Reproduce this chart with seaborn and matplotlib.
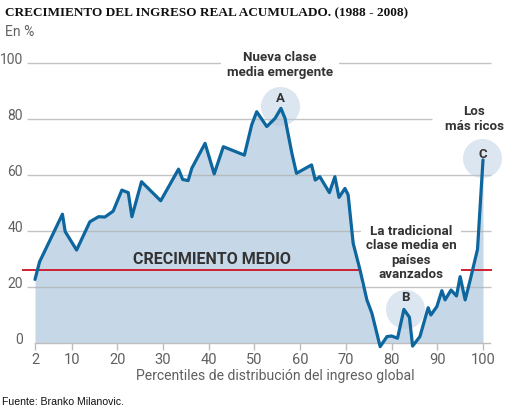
import numpy as np
import pandas as pd
import matplotlib
matplotlib.use("Agg")
import matplotlib.pyplot as plt
import matplotlib.transforms as mtransforms
import seaborn as sns

# ---- data ----
percentil = [2, 3, 5.3, 8, 8.6, 11.1, 14, 15.9, 17.3, 19.1, 21, 22.4, 23.2, 25.3,
             29.5, 33.4, 34.3, 35.5, 36.3, 39.2, 41.2, 43.2, 47.8, 49.4, 50.5,
             52.7, 54.5, 55.8, 56.7, 58.2, 59.2, 62.5, 63.3, 64.3, 66.4, 67.6,
             68.5, 69.8, 70.5, 71.6, 73.1, 74.6, 75.7, 77.5, 79, 80, 81.3, 82.7,
             83.9, 84.6, 86.2, 88, 88.6, 89.9, 91, 91.7, 93, 94.2, 95, 96.1,
             97.2, 98.8, 100]
crecimiento = [22.7, 29, 36.8, 46, 39.8, 33.2, 43.3, 45.1, 45, 47.1, 54.6, 53.7,
               45.1, 57.6, 50.8, 62.1, 58.4, 58, 62.4, 71.3, 60.4, 70.1, 67.1,
               77.9, 82.6, 77.3, 80.2, 83.8, 80.2, 67.7, 60.6, 63.6, 58.2, 59.4,
               53.7, 59.4, 52, 55.2, 52.9, 35.6, 26.1, 15.4, 10.6, -1.3, 2.3, 2.5,
               1.7, 12.0, 9.2, -1.1, 2.3, 12.6, 10, 13, 18.7, 15.4, 18.9, 16.8,
               23.7, 15.4, 22.5, 33.5, 65.4]
crecimiento_medio = 26
xticks = [2, 10, 20, 30, 40, 50, 60, 70, 80, 90, 100]
yticks = [0, 20, 40, 60, 80, 100]
puntos_letras = ["A", "B", "C"]
puntos_x = [55.6, 83.0, 99.8]
puntos_y = [84.5, 12.3, 66.1]

df = pd.DataFrame({"percentil": percentil, "crecimiento": crecimiento})

# ---- style ----
sns.set_style("white")
plt.rcParams['font.family'] = ['Roboto', 'DejaVu Sans']

LINE = "#0d669e"
FILL = "#c6d8e8"
RED = "#cf2030"
GRID = "#b0b0b0"
TXT = "#333333"
AXTXT = "#606060"

W, H = 507, 408
fig = plt.figure(figsize=(W / 100, H / 100), dpi=100)
# pixel mapping: x=2 -> 35px, x=100 -> 483px ; y=0 -> 343px, y=100 -> 63px
PX_X = (483 - 35) / 98.0
PX_Y = (343 - 63) / 100.0
ax_l, ax_r, ax_b, ax_t = 27, 492, 343, 55
ax = fig.add_axes([ax_l / W, (H - ax_b) / H, (ax_r - ax_l) / W, (ax_b - ax_t) / H])
ax.set_xlim(2 - (35 - ax_l) / PX_X, 100 + (ax_r - 483) / PX_X)
ax.set_ylim(0, 100 + (63 - ax_t) / PX_Y)

def dx(px):
    return 2 + (px - 35) / PX_X

def dy(py):
    return (343 - py) / PX_Y

# fill + line
ax.fill_between(df["percentil"], df["crecimiento"], 0, color=FILL, lw=0, zorder=1)
sns.lineplot(data=df, x="percentil", y="crecimiento", color=LINE, lw=2.3,
             ax=ax, zorder=6, clip_on=False, sort=False)

# grid lines
grid_y = [20, 40, 60, 80, 100]
grid_end = [dx(491), dx(491), dx(491), dx(432), dx(491)]
ax.hlines(grid_y, dx(27), grid_end, colors=GRID, lw=1, alpha=0.75, zorder=2, clip_on=False)

# average growth line
ax.hlines(crecimiento_medio, dx(22), dx(492), colors=RED, lw=1.4, zorder=3, clip_on=False)

# highlight circles
ax.scatter(puntos_x, puntos_y, s=790, color="#b3c9de", alpha=0.45, linewidths=0,
           zorder=2.5, clip_on=False)
letra_dy = [3, 3.8, 1.2]
for l, x, y, o in zip(puntos_letras, puntos_x, puntos_y, letra_dy):
    ax.text(x + 0.1, y + o, l, ha="center", va="center", fontsize=9.5,
            fontweight="bold", color=TXT, zorder=7)

# annotations
ax.text(dx(280), dy(65), "Nueva clase\nmedia emergente", ha="center", va="center",
        fontsize=9.6, fontweight="bold", color=TXT, linespacing=1.2, zorder=5,
        bbox=dict(facecolor="white", edgecolor="none", pad=4.5), clip_on=False)
ax.text(dx(474), dy(119), "Los\nmás ricos", ha="center", va="center",
        fontsize=9.6, fontweight="bold", color=TXT, linespacing=1.2, zorder=5,
        bbox=dict(facecolor="white", edgecolor="none", pad=2), clip_on=False)
ax.text(dx(411), dy(253), "La tradicional\nclase media en\npaíses\navanzados",
        ha="center", va="center", fontsize=9.6, fontweight="bold", color=TXT,
        linespacing=1.15, zorder=5,
        bbox=dict(facecolor="white", edgecolor="none", pad=3), clip_on=False)
ax.text(dx(212), dy(260), "CRECIMIENTO MEDIO", ha="center", va="center",
        fontsize=11.5, fontweight="bold", color=TXT, zorder=5)

# axes / ticks
for s in ["left", "right", "top"]:
    ax.spines[s].set_visible(False)
ax.spines["bottom"].set_color("#bdbdbd")
ax.spines["bottom"].set_linewidth(1)
ax.spines["bottom"].set_bounds(2, dx(490))
ax.spines["bottom"].set_zorder(2)
ax.set_xticks(xticks)
ax.set_xticklabels([str(t) for t in xticks])
ax.set_yticks(yticks)
ax.set_yticklabels([str(t) for t in yticks])
ax.tick_params(axis="x", direction="out", length=5, width=1, color="#bdbdbd",
               labelsize=10.5, labelcolor=AXTXT, pad=2, bottom=True)
ax.tick_params(axis="y", length=0, labelsize=10, labelcolor=AXTXT, pad=3, left=True)
shift = mtransforms.ScaledTranslation(0, 4 / 100, fig.dpi_scale_trans)
for lbl in ax.get_yticklabels():
    lbl.set_transform(lbl.get_transform() + shift)
ax.grid(False)
ax.set_ylabel("")
ax.set_xlabel("Percentiles de distribución del ingreso global", fontsize=10.1,
              color=AXTXT)
ax.xaxis.set_label_coords((275 - ax_l) / (ax_r - ax_l), -(376 - ax_b) / (ax_b - ax_t))
ax.xaxis.label.set_va("center")

# titles
fig.text(5 / W, 1 - 13 / H, "CRECIMIENTO DEL INGRESO REAL ACUMULADO. (1988 - 2008)",
         family=["Liberation Serif", "DejaVu Serif"], fontweight="bold", fontsize=9.5,
         color="#111111", va="center", ha="left")
fig.text(5 / W, 1 - 32 / H, "En %", fontsize=10, color=AXTXT,
         va="center", ha="left")
fig.text(2 / W, 1 - 402 / H, "Fuente: Branko Milanovic.",
         family=["Liberation Sans Narrow", "Liberation Sans", "DejaVu Sans"],
         fontsize=7.6, color="#111111", va="center", ha="left")

fig.savefig("out.png", dpi=100)
